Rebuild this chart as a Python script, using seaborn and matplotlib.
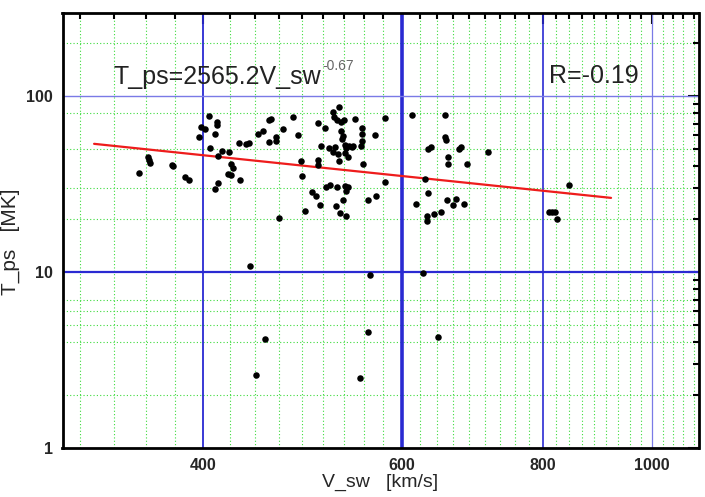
# Sonnenwind: Protonentemperatur gegen Geschwindigkeit (log-log) mit Potenzfit

import numpy as np
import pandas as pd
import seaborn as sns
import matplotlib.pyplot as plt
from matplotlib.ticker import NullFormatter

# Messpunkte
v_sw = [351, 357, 358, 358.5, 375, 376, 385, 388.5, 396.5, 398, 401, 405, 411, 411.5,
        409.6, 405.5, 412.3, 415.3, 421.5, 423.2, 424.7, 420.6, 423.6, 431, 412, 410,
        430.6, 436.8, 439, 447.6, 452, 457.3, 459.6, 457.3, 464.4, 464.5, 470.3, 480.5,
        485.8, 505.4, 512.6, 521.1, 522.7, 525.3, 527.8, 530.2, 533, 545.6, 509.2, 517.4,
        523.2, 530.4, 532.5, 531, 534, 535.9, 538.4, 541.7, 543, 521.4, 526.5, 534, 537.5,
        527.8, 553.2, 553.2, 552.8, 552.5, 553.9, 488.8, 505.9, 489.5, 514.4, 518.3, 525.3,
        534, 537.5, 499.7, 503.3, 532.2, 560, 508, 525, 492.1, 528.4, 535.9, 466.7, 579.4,
        567.7, 613, 655, 655.7, 657.3, 632.5, 637.2, 674.3, 676.6, 659.9, 659, 715, 685,
        579.4, 628.5, 568.7, 632.5, 617.1, 658.6, 670, 666.8, 680.9, 631.7, 631.7, 640.5,
        650.3, 844.6, 809.8, 814.7, 820, 823.4, 440, 561.7, 626, 560, 453.6, 445.3, 550.6,
        645.8, 505.4, 535]
t_ps = [36.9, 45.4, 43.7, 41.9, 41.0, 40.4, 34.8, 33.4, 58.8, 67.0, 65.5, 77.0, 71.7, 68.5,
        60.9, 51.0, 45.6, 49.1, 48.2, 41.4, 39.3, 36.0, 35.9, 33.4, 32.2, 29.6,
        54.6, 53.5, 54.4, 61.3, 63.4, 73.6, 74.6, 55.4, 59.0, 55.6, 65.6, 76.1,
        60.7, 70.8, 66.3, 81.7, 76.1, 73.6, 86.7, 71.7, 73.1, 74.6, 52.1, 51.1,
        51.8, 63.4, 59.9, 57.3, 53.3, 50.8, 52.1, 51.7, 52.6, 48.2, 46.8, 47.8, 45.3,
        42.7, 66.2, 60.9, 55.6, 52.1, 41.2, 42.9, 40.9, 35.3, 30.7, 31.3, 30.5,
        31.1, 30.7, 28.8, 27.3, 25.8, 25.7, 24.0, 23.8, 22.3, 21.8, 21.0, 20.5, 75.6,
        60.7, 78.0, 78.4, 58.8, 56.7, 50.1, 51.8, 50.4, 51.4, 45.3, 41.4, 48.2, 41.5,
        32.6, 33.9, 27.1, 28.1, 24.5, 25.7, 26.1, 24.1, 24.4, 21.0, 19.5, 21.4,
        21.9, 31.3, 22.0, 22.0, 22.0, 20.0, 10.8, 9.7, 9.9, 4.6, 4.2, 2.6, 2.5,
        4.3, 43.7, 29.0]

# Fit T_ps = A * V_sw^b
fit_a = 2565.2
fit_b = -0.67
fit_v = [320, 920]
r_wert = -0.19

x_major = [400, 600, 800, 1000]
y_major = [1, 10, 100]
y_gruen = [2, 4, 5, 6, 7, 20, 30, 50, 80, 200]

# Nebenstriche: 9 Teile pro 200 km/s
x_minor = [400 + k * 200 / 9 for k in range(-4, 32)]
x_minor = [v for v in x_minor if 300 < v < 1100 and round(v) not in x_major]
y_minor = [m * 10 ** e for e in range(0, 3) for m in range(2, 10) if m * 10 ** e < 300]

df = pd.DataFrame({"V_sw": v_sw, "T_ps": t_ps})
fit = pd.DataFrame({"V_sw": fit_v, "T_ps": [fit_a * v ** fit_b for v in fit_v]})

sns.set_style("white")
plt.rcParams["font.family"] = ["Liberation Sans", "DejaVu Sans"]

fig = plt.figure(figsize=(7.05, 4.97), dpi=100)
ax = fig.add_axes([62.5 / 705, 1 - 448.3 / 497, 636 / 705, 435.8 / 497])
ax.set_xscale("log")
ax.set_yscale("log")

# Gitter
gruen = dict(color="#3ddc3d", lw=0.8, ls=(0, (1, 2)), zorder=0)
for v in x_minor:
    ax.axvline(v, **gruen)
for t in y_gruen:
    ax.axhline(t, **gruen)
blau_lw = {400: 1.3, 600: 2.6, 800: 1.2, 1000: 0.9}
for v in x_major:
    ax.axvline(v, color="#2a2ad2" if v != 1000 else "#7a7ae6", lw=blau_lw[v], zorder=1)
ax.axhline(10, color="#2a2ad2", lw=1.6, zorder=1)
ax.axhline(100, color="#7a7ae6", lw=1.0, zorder=1)

sns.lineplot(data=fit, x="V_sw", y="T_ps", color="#ee1c1c", lw=1.6, ax=ax, zorder=2)
sns.scatterplot(data=df, x="V_sw", y="T_ps", color="black", s=22, linewidth=0, ax=ax, zorder=3)

ax.set_xticks(x_major, labels=[str(v) for v in x_major])
ax.set_xticks(x_minor, minor=True)
ax.set_yticks(y_major, labels=[str(v) for v in y_major])
ax.set_yticks(y_minor, minor=True)
ax.xaxis.set_minor_formatter(NullFormatter())
ax.yaxis.set_minor_formatter(NullFormatter())
ax.set_xlim(300, 1100)
ax.set_ylim(1, 300)
ax.set_xlabel("")
ax.set_ylabel("")

ax.tick_params(which="both", direction="in", top=True, right=True, width=1.5, color="black")
ax.tick_params(which="major", length=8, labelsize=11.5, pad=7)
ax.tick_params(which="minor", length=4)
for lbl in ax.get_xticklabels() + ax.get_yticklabels():
    lbl.set_fontweight("bold")
for s in ax.spines.values():
    s.set_linewidth(2)
    s.set_color("black")

# Beschriftungen
fig.text(113 / 705, 1 - 84 / 497, f"T_ps={fit_a}V_sw", fontsize=18, va="baseline", color="#222222")
fig.text(322 / 705, 1 - 70 / 497, f"{fit_b}", fontsize=10, va="baseline", color="#666666")
fig.text(549 / 705, 1 - 83.5 / 497, f"R={r_wert}", fontsize=18, va="baseline", color="#222222")
fig.text(10 / 705, 1 - 242 / 497, "T_ps   [MK]", rotation=90, ha="center", va="center", fontsize=15)
fig.text(380 / 705, 1 - 474 / 497, "V_sw   [km/s]", ha="center", va="top", fontsize=14)

fig.savefig("out.png", dpi=100)
